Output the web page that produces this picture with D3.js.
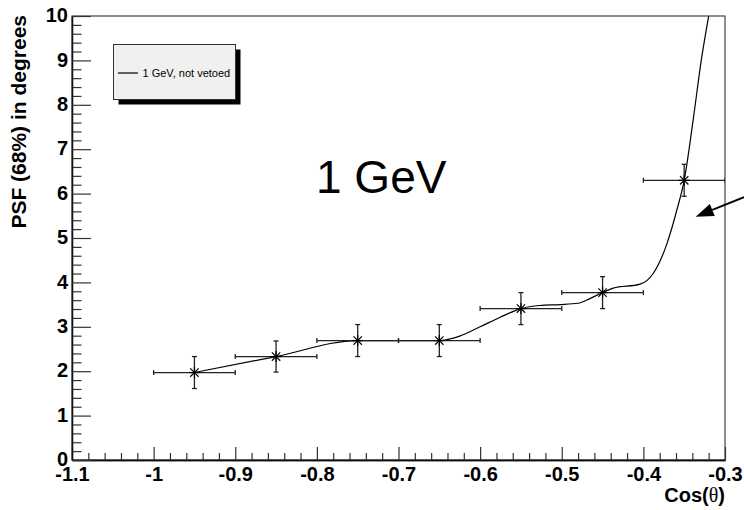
<!DOCTYPE html>
<html>
<head>
<meta charset="utf-8">
<script src="https://cdn.jsdelivr.net/npm/d3@7"></script>
<style>
  body { margin: 0; background: #fff; }
  svg { display: block; }
</style>
</head>
<body>
<svg id="chart" width="744" height="510"></svg>
<script>
// PSF (68% containment) vs cos(theta), 1 GeV, not vetoed
const cosTheta   = [-0.95, -0.85, -0.75, -0.65, -0.55, -0.45, -0.35];
const psf68      = [1.97, 2.33, 2.69, 2.69, 3.41, 3.77, 6.30];
const binHalf    = [0.05, 0.05, 0.05, 0.05, 0.05, 0.05, 0.05];
const psfErr     = [0.36, 0.35, 0.36, 0.36, 0.36, 0.36, 0.36];

// smooth curve drawn through the measurements
const curveX = [-0.95, -0.85, -0.75, -0.70, -0.65, -0.625, -0.600, -0.576, -0.55,
                -0.527, -0.502, -0.480, -0.465, -0.45, -0.437, -0.404, -0.388,
                -0.371, -0.359, -0.35, -0.339, -0.329, -0.3195];
const curveY = [1.97, 2.33, 2.69, 2.69, 2.69, 2.79, 3.00, 3.21, 3.41,
                3.48, 3.50, 3.53, 3.64, 3.77, 3.87, 3.96, 4.20,
                4.88, 5.63, 6.30, 7.66, 9.01, 10.05];

const xTicks      = [-1.1, -1.0, -0.9, -0.8, -0.7, -0.6, -0.5, -0.4, -0.3];
const xTickLabels = ["-1.1", "-1", "-0.9", "-0.8", "-0.7", "-0.6", "-0.5", "-0.4", "-0.3"];
const yTicks      = [0, 1, 2, 3, 4, 5, 6, 7, 8, 9, 10];
const yTickLabels = ["0", "1", "2", "3", "4", "5", "6", "7", "8", "9", "10"];

const legendLabel = "1 GeV, not vetoed";
const plotLabel   = "1 GeV";

const svg = d3.select("#chart");
const frame = { left: 72, right: 725, top: 16, bottom: 460 };

const x = d3.scaleLinear().domain([-1.1, -0.3]).range([frame.left, frame.right]);
const y = d3.scaleLinear().domain([0, 10]).range([frame.bottom, frame.top]);

const fontBold = "'Liberation Sans', Arial, Helvetica, sans-serif";

svg.append("rect").attr("width", 744).attr("height", 510).attr("fill", "#fff");

svg.append("defs").append("clipPath").attr("id", "plotArea")
  .append("rect")
  .attr("x", frame.left).attr("y", frame.top)
  .attr("width", frame.right - frame.left).attr("height", frame.bottom - frame.top);

// frame
svg.append("rect")
  .attr("x", frame.left).attr("y", frame.top)
  .attr("width", frame.right - frame.left).attr("height", frame.bottom - frame.top)
  .attr("fill", "none").attr("stroke", "#444").attr("stroke-width", 1.2);

// minor tick positions
const xMinor = d3.range(-1.1, -0.3 + 1e-9, 0.02).map(v => +v.toFixed(3))
  .filter(v => !xTicks.some(t => Math.abs(t - v) < 1e-6));
const yMinor = d3.range(0, 10 + 1e-9, 0.2).map(v => +v.toFixed(3))
  .filter(v => !yTicks.some(t => Math.abs(t - v) < 1e-6));

function styleAxis(g) {
  g.select(".domain").attr("stroke", "#111").attr("stroke-width", 1.3);
  g.selectAll(".tick line").attr("stroke", "#333").attr("stroke-width", 1.2);
  g.selectAll(".tick text")
    .attr("font-family", fontBold).attr("font-weight", "bold")
    .attr("font-size", 20).attr("fill", "#000");
}

// x axis
svg.append("g").attr("transform", `translate(0,${frame.bottom})`)
  .call(d3.axisBottom(x).tickValues(xMinor).tickSizeInner(-7).tickSizeOuter(0).tickFormat(""))
  .call(styleAxis);
svg.append("g").attr("transform", `translate(0,${frame.bottom})`)
  .call(d3.axisBottom(x).tickValues(xTicks).tickSizeInner(-13).tickSizeOuter(0)
    .tickPadding(7).tickFormat((d, i) => xTickLabels[i]))
  .call(styleAxis);

// y axis
svg.append("g").attr("transform", `translate(${frame.left},0)`)
  .call(d3.axisLeft(y).tickValues(yMinor).tickSizeInner(-9.5).tickSizeOuter(0).tickFormat(""))
  .call(styleAxis);
svg.append("g").attr("transform", `translate(${frame.left},0)`)
  .call(d3.axisLeft(y).tickValues(yTicks).tickSizeInner(-19).tickSizeOuter(0)
    .tickPadding(4).tickFormat((d, i) => yTickLabels[i]))
  .call(styleAxis)
  .call(g => g.selectAll(".tick text").attr("dy", "0.28em"));

// axis titles
const xTitle = svg.append("text")
  .attr("x", frame.right).attr("y", 502)
  .attr("text-anchor", "end")
  .attr("font-family", fontBold).attr("font-weight", "bold").attr("font-size", 20);
xTitle.append("tspan").text("Cos(");
xTitle.append("tspan").attr("font-family", "'Liberation Serif', 'Times New Roman', serif")
  .attr("font-weight", "normal").text("θ");
xTitle.append("tspan").text(")");

svg.append("text")
  .attr("transform", `translate(26,${frame.top - 1}) rotate(-90)`)
  .attr("text-anchor", "end")
  .attr("font-family", fontBold).attr("font-weight", "bold").attr("font-size", 21)
  .text("PSF (68%) in degrees");

const plot = svg.append("g").attr("clip-path", "url(#plotArea)");

// curve
const pts = curveX.map((cx, i) => [cx, curveY[i]]);
plot.append("path")
  .datum(pts)
  .attr("fill", "none").attr("stroke", "#000").attr("stroke-width", 1.2)
  .attr("d", d3.line().x(d => x(d[0])).y(d => y(d[1])).curve(d3.curveMonotoneX));

// error bars and markers
const data = cosTheta.map((c, i) => ({ c, v: psf68[i], dx: binHalf[i], dy: psfErr[i] }));
const cap = 2.5;
const bars = plot.append("g").attr("stroke", "#222").attr("stroke-width", 1.3).attr("fill", "none");
data.forEach(d => {
  const px = x(d.c), py = y(d.v);
  const x0 = x(d.c - d.dx), x1 = x(d.c + d.dx);
  const y0 = y(d.v - d.dy), y1 = y(d.v + d.dy);
  bars.append("line").attr("x1", x0).attr("x2", x1).attr("y1", py).attr("y2", py);
  bars.append("line").attr("x1", x0).attr("x2", x0).attr("y1", py - cap).attr("y2", py + cap);
  bars.append("line").attr("x1", x1).attr("x2", x1).attr("y1", py - cap).attr("y2", py + cap);
  bars.append("line").attr("x1", px).attr("x2", px).attr("y1", y0).attr("y2", y1);
  bars.append("line").attr("x1", px - cap).attr("x2", px + cap).attr("y1", y0).attr("y2", y0);
  bars.append("line").attr("x1", px - cap).attr("x2", px + cap).attr("y1", y1).attr("y2", y1);
});

const marks = plot.append("g").attr("stroke", "#000").attr("stroke-width", 1.2);
const ms = 5.5, md = 4.2;
data.forEach(d => {
  const px = x(d.c), py = y(d.v);
  marks.append("line").attr("x1", px - ms).attr("x2", px + ms).attr("y1", py).attr("y2", py);
  marks.append("line").attr("x1", px).attr("x2", px).attr("y1", py - ms).attr("y2", py + ms);
  marks.append("line").attr("x1", px - md).attr("x2", px + md).attr("y1", py - md).attr("y2", py + md);
  marks.append("line").attr("x1", px - md).attr("x2", px + md).attr("y1", py + md).attr("y2", py - md);
});

// legend
const lg = svg.append("g");
lg.append("rect").attr("x", 118.5).attr("y", 49.5).attr("width", 122).attr("height", 55).attr("fill", "#000");
lg.append("rect").attr("x", 113.5).attr("y", 44.5).attr("width", 122).attr("height", 55)
  .attr("fill", "#f0f0f0").attr("stroke", "#333").attr("stroke-width", 1);
lg.append("line").attr("x1", 118).attr("x2", 138).attr("y1", 73).attr("y2", 73)
  .attr("stroke", "#000").attr("stroke-width", 1.2);
lg.append("text").attr("x", 142.5).attr("y", 76.5)
  .attr("font-family", "'Liberation Sans', Arial, sans-serif").attr("font-size", 11)
  .text(legendLabel);

// big energy label
svg.append("text").attr("x", 316).attr("y", 193)
  .attr("font-family", "'Liberation Sans', Arial, Helvetica, sans-serif").attr("font-size", 46)
  .text(plotLabel);

// arrow annotation pointing at the steep rise
const arrowTail = [-0.2767, 5.92], arrowTip = [-0.336, 5.48];
const ax0 = x(arrowTail[0]), ay0 = y(arrowTail[1]);
const ax1 = x(arrowTip[0]), ay1 = y(arrowTip[1]);
const ang = Math.atan2(ay1 - ay0, ax1 - ax0);
const headLen = 18, headHalf = 6.5;
const bx = ax1 - headLen * Math.cos(ang), by = ay1 - headLen * Math.sin(ang);
svg.append("line").attr("x1", ax0).attr("y1", ay0).attr("x2", bx).attr("y2", by)
  .attr("stroke", "#000").attr("stroke-width", 1.8);
svg.append("path")
  .attr("d", `M${ax1},${ay1} L${bx - headHalf * Math.sin(ang)},${by + headHalf * Math.cos(ang)} L${bx + headHalf * Math.sin(ang)},${by - headHalf * Math.cos(ang)} Z`)
  .attr("fill", "#000");
</script>
</body>
</html>
